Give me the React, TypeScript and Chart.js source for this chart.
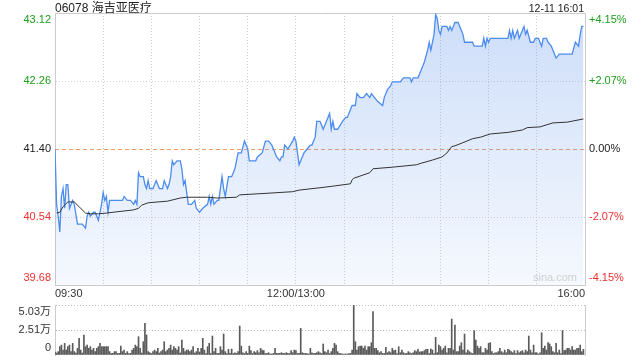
import React, { useEffect, useRef } from 'react';
import { Chart, registerables } from 'chart.js';

Chart.register(...registerables);

// ---------- texts ----------
const stockTitle = '06078 海吉亚医疗';
const stampText = '12-11 16:01';
const watermark = 'sina.com';

// ---------- axes ----------
const prevClose = 41.4;
const priceTicks = [39.68, 40.54, 41.4, 42.26, 43.12];
const priceTickLabels = ['39.68', '40.54', '41.40', '42.26', '43.12'];
const pctTickLabels = ['-4.15%', '-2.07%', '0.00%', '+2.07%', '+4.15%'];
const timeTicks = [0, 30, 60, 90, 120, 150, 180, 210, 240, 270, 300, 330];
const timeTickLabels = ['09:30', '', '', '', '', '12:00/13:00', '', '', '', '', '', '16:00'];
const volTicks = [0, 2.515, 5.03];
const volTickLabels = ['0', '2.51万', '5.03万'];

// ---------- price (minutes after 09:30, lunch removed) ----------
const priceMinutes = [
  0, 1, 2, 3, 4, 5, 6, 7, 8, 9,
  11, 12, 14, 16, 17, 19, 20, 21, 22, 24,
  25, 27, 29, 30, 31, 32, 33, 34, 35, 37,
  42, 43, 45, 47, 49, 50, 51, 52, 53, 55,
  56, 57, 58, 59, 61, 63, 65, 67, 68, 70,
  71, 72, 73, 74, 76, 78, 79, 80, 81, 83,
  85, 87, 88, 90, 92, 95, 96, 97, 98, 99,
  101, 102, 104, 105, 106, 108, 110, 112, 114, 116,
  118, 119, 120, 121, 125, 126, 129, 131, 133, 135,
  136, 138, 140, 141, 142, 143, 145, 148, 149, 150,
  152, 153, 155, 157, 159, 160, 161, 162, 163, 165,
  167, 168, 169, 171, 172, 173, 174, 176, 179, 181,
  182, 185, 187, 188, 190, 192, 194, 196, 197, 199,
  201, 204, 205, 207, 209, 210, 212, 215, 217, 221,
  222, 223, 226, 228, 230, 232, 233, 234, 235, 236,
  237, 238, 239, 240, 241, 243, 244, 245, 246, 247,
  248, 249, 251, 252, 254, 255, 260, 261, 265, 266,
  267, 268, 269, 270, 271, 272, 282, 283, 284, 285,
  286, 288, 289, 291, 292, 293, 294, 296, 298, 299,
  301, 302, 303, 304, 306, 307, 309, 311, 312, 314,
  322, 324, 326, 327, 328, 329,
];
const priceValues = [
  41.40, 40.70, 40.55, 40.35, 40.80, 40.90, 40.65, 40.95, 40.95, 40.65,
  40.75, 40.70, 40.45, 40.45, 40.45, 40.40, 40.55, 40.60, 40.55, 40.60,
  40.60, 40.50, 40.70, 40.85, 40.75, 40.80, 40.60, 40.75, 40.75, 40.75,
  40.75, 40.80, 40.75, 40.75, 40.70, 40.75, 40.70, 41.10, 41.05, 41.05,
  40.95, 40.90, 41.00, 40.90, 40.90, 41.00, 40.90, 40.90, 41.00, 40.90,
  40.95, 41.05, 41.25, 41.20, 41.25, 41.25, 41.15, 40.95, 41.00, 40.70,
  40.70, 40.75, 40.65, 40.60, 40.65, 40.70, 40.80, 40.70, 40.80, 40.70,
  40.75, 40.75, 41.05, 40.90, 40.80, 41.05, 41.05, 41.15, 41.35, 41.35,
  41.50, 41.45, 41.40, 41.25, 41.25, 41.30, 41.35, 41.50, 41.50, 41.45,
  41.40, 41.30, 41.25, 41.30, 41.30, 41.45, 41.40, 41.50, 41.55, 41.50,
  41.20, 41.25, 41.35, 41.40, 41.45, 41.45, 41.50, 41.55, 41.75, 41.75,
  41.65, 41.70, 41.75, 41.85, 41.65, 41.75, 41.65, 41.65, 41.75, 41.80,
  41.80, 41.95, 41.95, 42.10, 42.05, 42.05, 42.10, 42.05, 42.10, 42.05,
  42.00, 41.95, 42.05, 42.15, 42.20, 42.25, 42.25, 42.25, 42.30, 42.30,
  42.25, 42.30, 42.30, 42.40, 42.50, 42.65, 42.75, 42.65, 42.75, 42.85,
  43.10, 43.05, 42.90, 42.85, 42.95, 42.95, 42.95, 42.90, 42.95, 42.90,
  42.95, 43.00, 43.00, 42.95, 42.85, 42.75, 42.75, 42.70, 42.70, 42.70,
  42.80, 42.70, 42.80, 42.75, 42.80, 42.80, 42.80, 42.90, 42.80, 42.90,
  42.80, 42.90, 42.80, 42.90, 42.95, 42.85, 42.90, 42.75, 42.75, 42.80,
  42.80, 42.75, 42.70, 42.80, 42.80, 42.75, 42.70, 42.60, 42.55, 42.60,
  42.60, 42.75, 42.70, 42.85, 42.95, 42.95,
];

// ---------- average price ----------
const avgMinutes = [
  1, 3, 5, 8, 12, 15, 19, 22, 27, 32,
  49, 52, 54, 58, 70, 78, 82, 95, 101, 113,
  115, 132, 148, 152, 165, 173, 184, 185, 186, 196,
  198, 210, 225, 228, 235, 241, 244, 247, 249, 254,
  260, 265, 271, 282, 291, 294, 302, 310, 319, 329,
];
const avgValues = [
  40.59, 40.60, 40.67, 40.73, 40.73, 40.67, 40.59, 40.58, 40.58, 40.59,
  40.63, 40.65, 40.69, 40.72, 40.74, 40.78, 40.79, 40.79, 40.78, 40.79,
  40.82, 40.84, 40.86, 40.88, 40.91, 40.93, 40.96, 41.01, 41.03, 41.10,
  41.15, 41.17, 41.20, 41.22, 41.26, 41.30, 41.35, 41.43, 41.44, 41.48,
  41.53, 41.55, 41.59, 41.61, 41.64, 41.67, 41.68, 41.73, 41.74, 41.78,
];

// ---------- volume per minute (万股), index = minute ----------
const volumes = [
  0.30, 0.20, 0.34, 0.84, 1.00, 0.50, 1.17, 0.50, 0.84, 1.00,
  0.34, 1.17, 0.34, 0.20, 0.67, 1.68, 0.50, 0.20, 2.01, 0.84,
  1.00, 0.67, 0.84, 0.50, 0.67, 0.34, 0.67, 0.84, 1.17, 0.84,
  0.84, 0.84, 0.84, 0.84, 0.34, 0.15, 0.17, 0.34, 0.34, 0.15,
  0.17, 0.90, 0.34, 0.50, 0.17, 0.34, 0.15, 0.17, 0.50, 0.67,
  1.00, 0.84, 1.84, 0.67, 0.20, 1.34, 3.18, 2.01, 0.34, 0.23,
  0.15, 0.34, 0.50, 0.34, 0.67, 0.20, 0.34, 0.50, 1.34, 0.34,
  0.50, 0.67, 1.00, 0.50, 0.84, 0.67, 0.50, 0.84, 0.20, 1.51,
  0.67, 0.34, 0.50, 0.50, 0.34, 0.50, 0.84, 0.20, 0.34, 0.67,
  0.30, 0.67, 1.68, 0.50, 0.15, 0.84, 1.17, 0.15, 1.91, 0.34,
  0.67, 0.15, 0.17, 0.84, 0.50, 2.11, 0.34, 0.15, 0.57, 0.17,
  0.60, 0.15, 0.23, 0.17, 0.34, 2.91, 0.90, 0.23, 0.15, 0.34,
  0.17, 0.90, 0.44, 0.15, 0.34, 0.23, 0.44, 0.23, 0.67, 0.50,
  0.44, 0.15, 0.17, 0.23, 0.10, 0.10, 0.17, 0.67, 0.17, 0.15,
  0.17, 0.23, 0.17, 0.15, 0.23, 0.17, 0.15, 0.44, 0.23, 0.50,
  0.44, 0.15, 0.17, 2.68, 0.23, 0.17, 0.17, 0.15, 0.10, 0.67,
  0.23, 0.15, 0.17, 0.23, 0.34, 0.23, 0.15, 1.11, 0.34, 0.23,
  0.50, 0.15, 0.34, 0.67, 1.17, 1.00, 0.34, 0.17, 0.15, 0.10,
  0.10, 0.10, 0.10, 0.15, 0.17, 0.50, 5.03, 1.34, 0.50, 0.84,
  0.90, 0.90, 0.67, 0.90, 0.50, 0.84, 0.84, 1.24, 4.36, 0.67,
  0.67, 0.44, 0.23, 0.34, 0.17, 0.15, 0.77, 0.23, 0.34, 0.23,
  0.67, 0.44, 0.50, 0.15, 0.84, 0.23, 0.50, 0.23, 0.15, 0.17,
  0.34, 0.23, 0.15, 0.23, 0.44, 0.34, 0.57, 0.30, 0.34, 0.34,
  0.44, 0.57, 0.57, 0.15, 0.60, 0.50, 0.15, 1.78, 0.23, 1.00,
  0.84, 0.50, 0.67, 0.90, 0.23, 0.67, 0.67, 3.62, 0.50, 3.02,
  0.34, 0.34, 0.90, 1.24, 0.50, 2.11, 0.23, 0.50, 0.34, 0.23,
  0.15, 2.45, 1.51, 0.90, 0.67, 0.84, 0.23, 0.23, 0.67, 0.50,
  1.17, 1.24, 0.34, 0.15, 0.23, 0.23, 0.34, 0.67, 0.34, 0.23,
  0.50, 0.23, 0.57, 0.50, 0.34, 0.23, 0.44, 0.15, 0.44, 0.23,
  0.34, 0.44, 0.23, 0.50, 0.34, 1.91, 0.50, 0.23, 1.00, 0.23,
  0.23, 0.10, 0.23, 2.24, 0.67, 0.90, 0.50, 1.24, 1.11, 0.84,
  0.34, 0.23, 1.17, 0.23, 0.50, 0.15, 2.45, 0.44, 0.50, 0.67,
  0.67, 0.50, 0.84, 0.50, 0.50, 0.67, 0.67, 1.00, 0.34, 0.57,
  0,
];

// ---------- styles ----------
const FONT = '"Liberation Sans", Arial, "Noto Sans CJK SC", sans-serif';
const GREEN = '#1c9e1c';
const RED = '#ee3030';
const BLACK = '#222222';
const GRID = '#d0d0d0';
const FRAME = '#cccccc';
const NONE = 'rgba(0,0,0,0)';
const labelColors = [RED, RED, BLACK, GREEN, GREEN];

function fixBox(w: number | null, h: number | null) {
  return (s: any) => {
    if (w !== null) s.width = w;
    if (h !== null) s.height = h;
    s.paddingTop = 0;
    s.paddingBottom = 0;
    s.paddingLeft = 0;
    s.paddingRight = 0;
  };
}

function edgeLabel(labels: string[]) {
  return (_v: any, i: number) => {
    const s = labels[i];
    if (i === labels.length - 1) return ['', s];
    if (i === 0) return [s, ''];
    return s;
  };
}

function setTicks(values: number[]) {
  return (s: any) => {
    s.ticks = values.map((v) => ({ value: v }));
  };
}

function mainConfig(): any {
  const pricePoints = priceMinutes.map((m, i) => ({ x: m, y: priceValues[i] }));
  const avgPoints = avgMinutes.map((m, i) => ({ x: m, y: avgValues[i] }));
  const tickFont = { family: FONT, size: 11 };
  return {
    type: 'line',
    data: {
      datasets: [
        {
          data: avgPoints,
          borderColor: '#333333',
          borderWidth: 1,
          pointRadius: 0,
          fill: false,
          order: 0,
        },
        {
          data: pricePoints,
          borderColor: '#4c8cee',
          borderWidth: 1.3,
          pointRadius: 0,
          fill: 'start',
          order: 1,
          backgroundColor: (ctx: any) => {
            const area = ctx.chart.chartArea;
            if (!area) return 'rgba(90,145,235,0.2)';
            const g = ctx.chart.ctx.createLinearGradient(0, area.top, 0, area.bottom);
            g.addColorStop(0, 'rgba(90,145,235,0.30)');
            g.addColorStop(1, 'rgba(90,145,235,0.06)');
            return g;
          },
        },
      ],
    },
    options: {
      responsive: false,
      animation: false,
      events: [],
      layout: { padding: { top: 13, left: 0, right: 0, bottom: 0 }, autoPadding: false },
      plugins: { legend: { display: false }, tooltip: { enabled: false } },
      scales: {
        x: {
          type: 'linear',
          position: 'bottom',
          min: 0,
          max: 330,
          afterBuildTicks: setTicks(timeTicks),
          afterFit: fixBox(null, 75),
          ticks: {
            autoSkip: false,
            maxRotation: 0,
            align: 'inner',
            padding: 2,
            color: '#333333',
            font: tickFont,
            callback: (_v: any, i: number) => timeTickLabels[i] ?? '',
          },
          grid: {
            drawTicks: false,
            color: (c: any) => (c.index === 0 || c.index === timeTicks.length - 1 ? NONE : GRID),
          },
          border: { display: true, color: FRAME, dash: [1, 2] },
        },
        xTop: {
          type: 'linear',
          position: 'top',
          min: 0,
          max: 330,
          afterFit: fixBox(null, 0),
          ticks: { display: false },
          grid: { display: false, drawTicks: false },
          border: { display: true, color: FRAME },
        },
        y: {
          type: 'linear',
          position: 'left',
          min: priceTicks[0],
          max: priceTicks[priceTicks.length - 1],
          afterBuildTicks: setTicks(priceTicks),
          afterFit: fixBox(55, null),
          ticks: {
            autoSkip: false,
            padding: 4,
            font: tickFont,
            color: (c: any) => labelColors[c.index] ?? BLACK,
            callback: edgeLabel(priceTickLabels),
          },
          grid: {
            drawTicks: false,
            color: (c: any) => (c.index === 0 || c.index === 2 || c.index === priceTicks.length - 1 ? NONE : GRID),
          },
          border: { display: true, color: FRAME, dash: [1, 2] },
        },
        yPrev: {
          type: 'linear',
          position: 'left',
          min: priceTicks[0],
          max: priceTicks[priceTicks.length - 1],
          afterBuildTicks: setTicks([prevClose]),
          afterFit: fixBox(0, null),
          ticks: { display: false },
          grid: { drawTicks: false, color: '#f29a60', lineWidth: 1 },
          border: { display: false, dash: [4, 3] },
        },
        y2: {
          type: 'linear',
          position: 'right',
          min: priceTicks[0],
          max: priceTicks[priceTicks.length - 1],
          afterBuildTicks: setTicks(priceTicks),
          afterFit: fixBox(55, null),
          ticks: {
            autoSkip: false,
            padding: 4,
            font: tickFont,
            color: (c: any) => labelColors[c.index] ?? BLACK,
            callback: edgeLabel(pctTickLabels),
          },
          grid: { display: false, drawTicks: false },
          border: { display: true, color: FRAME },
        },
      },
    },
  };
}

function volConfig(): any {
  const tickFont = { family: FONT, size: 11 };
  return {
    type: 'bar',
    data: {
      datasets: [
        {
          data: volumes.map((v, i) => ({ x: i, y: v })),
          backgroundColor: '#5a5a5a',
          borderWidth: 0,
          barThickness: 1,
        },
      ],
    },
    options: {
      responsive: false,
      animation: false,
      events: [],
      layout: { padding: { top: 305, left: 0, right: 0, bottom: 5 }, autoPadding: false },
      plugins: { legend: { display: false }, tooltip: { enabled: false } },
      scales: {
        x: { type: 'linear', min: 0, max: 330, display: false, offset: false },
        y: {
          type: 'linear',
          position: 'left',
          min: 0,
          max: volTicks[volTicks.length - 1],
          afterBuildTicks: setTicks(volTicks),
          afterFit: fixBox(55, null),
          ticks: {
            autoSkip: false,
            padding: 4,
            font: tickFont,
            color: '#333333',
            callback: edgeLabel(volTickLabels),
          },
          grid: { drawTicks: false, color: (c: any) => (c.index === 0 ? NONE : '#c0c0c0') },
          border: { display: true, color: FRAME, dash: [1, 2] },
        },
        y2: {
          type: 'linear',
          position: 'right',
          min: 0,
          max: volTicks[volTicks.length - 1],
          afterFit: fixBox(55, null),
          ticks: { display: false },
          grid: { display: false, drawTicks: false },
          border: { display: true, color: FRAME },
        },
      },
    },
  };
}

export default function App() {
  const mainRef = useRef<HTMLCanvasElement>(null);
  const volRef = useRef<HTMLCanvasElement>(null);

  useEffect(() => {
    const main = new Chart(mainRef.current as HTMLCanvasElement, mainConfig());
    const vol = new Chart(volRef.current as HTMLCanvasElement, volConfig());
    return () => {
      main.destroy();
      vol.destroy();
    };
  }, []);

  return (
    <div
      style={{
        position: 'fixed',
        left: 0,
        top: 0,
        width: 640,
        height: 360,
        background: '#ffffff',
        overflow: 'hidden',
        fontFamily: FONT,
      }}
    >
      <canvas ref={mainRef} width={640} height={360} style={{ position: 'absolute', left: 0, top: 0 }} />
      <canvas ref={volRef} width={640} height={360} style={{ position: 'absolute', left: 0, top: 0 }} />
      <div
        style={{
          position: 'absolute',
          left: 55,
          top: 0,
          fontSize: 12,
          lineHeight: '16px',
          color: '#222222',
          whiteSpace: 'nowrap',
        }}
      >
        {stockTitle}
      </div>
      <div
        style={{
          position: 'absolute',
          left: 0,
          width: 584,
          top: 1,
          fontSize: 10.5,
          lineHeight: '14px',
          color: '#222222',
          textAlign: 'right',
          whiteSpace: 'nowrap',
        }}
      >
        {stampText}
      </div>
      <div
        style={{
          position: 'absolute',
          left: 0,
          width: 577,
          top: 270,
          fontSize: 11,
          lineHeight: '14px',
          color: '#cfcfcf',
          textAlign: 'right',
          whiteSpace: 'nowrap',
        }}
      >
        {watermark}
      </div>
    </div>
  );
}
